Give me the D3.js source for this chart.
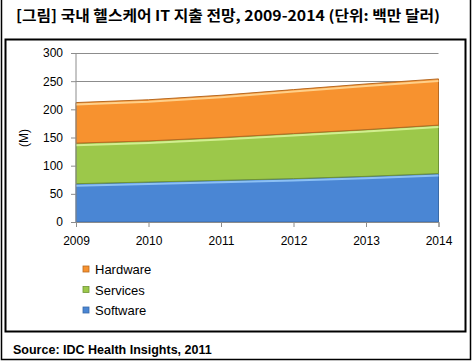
<!DOCTYPE html>
<html>
<head>
<meta charset="utf-8">
<script src="https://cdnjs.cloudflare.com/ajax/libs/d3/7.8.5/d3.min.js"></script>
<style>
  body { margin: 0; background: #fff; }
  svg { display: block; }
  text { font-family: "Liberation Sans", Arial, sans-serif; }
</style>
</head>
<body>
<div id="chart"></div>
<script>
// data
var years = [2009, 2010, 2011, 2012, 2013, 2014];
var software = [68, 71, 74, 77, 81, 86];
var services = [72, 73, 76, 80, 83, 86];
var hardware = [72, 73, 75, 78, 81, 82];
var yTicks = [0, 50, 100, 150, 200, 250, 300];
var seriesNames = ['Software', 'Services', 'Hardware'];
var colors = {Software: '#4a86d4', Services: '#9cc84a', Hardware: '#f7922f'};
var edges = {Software: '#3a6aa8', Services: '#6f9436', Hardware: '#b86a22'};
var lights = {Software: '#8cc0f4', Services: '#d2ee90', Hardware: '#ffd08a'};

var W = 472, H = 361;
var svg = d3.select('#chart').append('svg').attr('width', W).attr('height', H);

// frames
svg.append('path').attr('d', 'M1.5,0 V359.5 H470.5 V0')
   .attr('fill', 'none').attr('stroke', '#000').attr('stroke-width', 1.5);
svg.append('rect').attr('x', 5.5).attr('y', 39.5).attr('width', 460).attr('height', 292)
   .attr('fill', 'none').attr('stroke', '#000').attr('stroke-width', 2);

svg.append('text').attr('x', 16).attr('y', 21)
   .style('font-family', '"Noto Sans CJK KR", sans-serif')
   .style('font-size', '14.5px').style('font-weight', 'bold')
   .attr('textLength', 424).attr('lengthAdjust', 'spacingAndGlyphs')
   .text('[그림]  국내 헬스케어 IT 지출 전망, 2009-2014 (단위: 백만 달러)');

var x = d3.scaleLinear().domain([2009, 2014]).range([76, 438.5]);
var y = d3.scaleLinear().domain([0, 300]).range([222, 53]);

var table = years.map(function(yr, i){
  return {year: yr, Software: software[i], Services: services[i], Hardware: hardware[i]};
});
var stacked = d3.stack().keys(seriesNames)(table);

// grid
svg.append('g').selectAll('line').data(yTicks.slice(1)).enter().append('line')
   .attr('x1', x(2009)).attr('x2', x(2014))
   .attr('y1', function(d){ return Math.round(y(d)) + 0.5; })
   .attr('y2', function(d){ return Math.round(y(d)) + 0.5; })
   .attr('stroke', '#8c8c8c').attr('stroke-width', 1);

var area = d3.area().x(function(d){ return x(d.data.year); })
   .y0(function(d){ return y(d[0]); }).y1(function(d){ return y(d[1]); });
var topLine = d3.line().x(function(d){ return x(d.data.year); })
   .y(function(d){ return y(d[1]); });

var layers = svg.append('g').selectAll('g').data(stacked).enter().append('g');
layers.append('path').attr('d', area)
   .attr('fill', function(d){ return colors[d.key]; })
   .attr('stroke', function(d){ return edges[d.key]; }).attr('stroke-width', 1);
layers.append('path').attr('d', topLine).attr('fill', 'none')
   .attr('transform', 'translate(0,2)')
   .attr('stroke', function(d){ return lights[d.key]; }).attr('stroke-width', 2);

// axes
var yAxis = svg.append('g').attr('transform', 'translate(' + x(2009) + ',0)')
   .call(d3.axisLeft(y).tickValues(yTicks).tickSize(5).tickPadding(8));
var xAxis = svg.append('g').attr('transform', 'translate(0,' + y(0) + ')')
   .call(d3.axisBottom(x).tickValues(years).tickFormat(d3.format('d')).tickSize(5).tickPadding(9));
[yAxis, xAxis].forEach(function(a){
  a.selectAll('path, line').attr('stroke', '#8c8c8c');
  a.selectAll('text').style('font-size', '12px').attr('fill', '#000');
});
yAxis.select('.domain').attr('d', 'M0,' + y(300) + 'V' + y(0));

svg.append('text').attr('transform', 'translate(28,138) rotate(-90)')
   .attr('text-anchor', 'middle').style('font-size', '12px').text('(M)');

// legend
var legend = svg.append('g').selectAll('g').data(seriesNames.slice().reverse()).enter().append('g')
   .attr('transform', function(d, i){ return 'translate(83,' + (266 + i * 20.5) + ')'; });
legend.append('rect').attr('width', 6).attr('height', 6)
   .attr('fill', function(d){ return colors[d]; })
   .attr('stroke', function(d){ return edges[d]; }).attr('stroke-width', 0.8);
legend.append('text').attr('x', 12).attr('y', 8).style('font-size', '13px').text(function(d){ return d; });

svg.append('text').attr('x', 13).attr('y', 354).style('font-size', '12.5px').style('font-weight', 'bold')
   .text('Source: IDC Health Insights, 2011');
</script>
</body>
</html>
